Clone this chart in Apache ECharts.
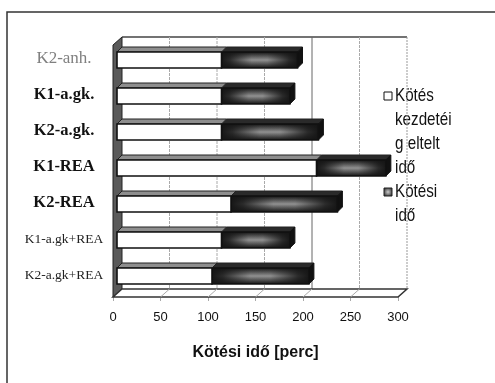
<!DOCTYPE html>
<html>
<head>
<meta charset="utf-8">
<script src="https://cdn.jsdelivr.net/npm/echarts@6/dist/echarts.min.js"></script>
<style>
  html, body { margin: 0; padding: 0; background: #fff; }
  #chart { width: 495px; height: 383px; }
</style>
</head>
<body>
<div id="chart"></div>
<script>
// Categories (samples), top to bottom
const categories = ['K2-anh.', 'K1-a.gk.', 'K2-a.gk.', 'K1-REA', 'K2-REA', 'K1-a.gk+REA', 'K2-a.gk+REA'];
// Time until setting begins [min]
const startTimes = [110, 110, 110, 210, 120, 110, 100];
// Setting time [min]
const settingTimes = [80, 72, 102, 73, 112, 72, 102];
// Value axis ticks
const xTicks = [0, 50, 100, 150, 200, 250, 300];

const seriesNames = ['Kötés kezdetéig eltelt idő', 'Kötési idő'];

// 3D geometry: depth of the plot box and of each bar
const DX = 9, DY = 8;          // wall depth
const BX = 4, BY = 4;          // bar front-face offset into the depth
const TX = 5, TY = 5;          // bar depth
const BAR_H = 16;

const serif = '"Liberation Serif", "Times New Roman", serif';
const sans = '"Liberation Sans", Arial, sans-serif';

const chart = echarts.init(document.getElementById('chart'), null, { renderer: 'canvas' });

const whiteData = categories.map((c, i) => [i, 0, startTimes[i]]);
const darkData = categories.map((c, i) => [i, startTimes[i], startTimes[i] + settingTimes[i]]);

// Shaded fill of the setting-time bars: dark rim, light core
const darkFillV = {
  type: 'linear', x: 0, y: 0, x2: 0, y2: 1,
  colorStops: [
    { offset: 0, color: '#151515' },
    { offset: 0.5, color: '#b0b0b0' },
    { offset: 1, color: '#151515' }
  ]
};
const darkFillH = {
  type: 'linear', x: 0, y: 0, x2: 1, y2: 0,
  colorStops: [
    { offset: 0, color: 'rgba(21,21,21,1)' },
    { offset: 0.12, color: 'rgba(21,21,21,0.85)' },
    { offset: 0.4, color: 'rgba(21,21,21,0.2)' },
    { offset: 0.6, color: 'rgba(21,21,21,0.2)' },
    { offset: 0.88, color: 'rgba(21,21,21,0.85)' },
    { offset: 1, color: 'rgba(21,21,21,1)' }
  ]
};

function barItem(kind) {
  return function (params, api) {
    const cat = api.value(0);
    const p0 = api.coord([api.value(1), cat]);
    const p1 = api.coord([api.value(2), cat]);
    const x0 = p0[0] + BX, x1 = p1[0] + BX;
    const yc = p0[1] - BY + 1;
    const yt = yc - BAR_H / 2, yb = yc + BAR_H / 2;
    const children = [];
    // top face
    children.push({
      type: 'polygon',
      shape: { points: [[x0, yt], [x1, yt], [x1 + TX, yt - TY], [x0 + TX, yt - TY]] },
      style: { fill: kind === 'white' ? '#8e8e8e' : '#2a2a2a', stroke: '#222', lineWidth: 1 }
    });
    if (kind === 'dark') {
      // right face
      children.push({
        type: 'polygon',
        shape: { points: [[x1, yt], [x1 + TX, yt - TY], [x1 + TX, yb - TY], [x1, yb]] },
        style: { fill: '#111', stroke: '#111', lineWidth: 1 }
      });
      // front face: vertical shading, then horizontal darkening toward the ends
      children.push({ type: 'rect', shape: { x: x0, y: yt, width: x1 - x0, height: BAR_H },
        style: { fill: darkFillV } });
      children.push({ type: 'rect', shape: { x: x0, y: yt, width: x1 - x0, height: BAR_H },
        style: { fill: darkFillH, stroke: '#111', lineWidth: 1.6 } });
    } else {
      children.push({ type: 'rect', shape: { x: x0, y: yt, width: x1 - x0, height: BAR_H },
        style: { fill: '#fff', stroke: '#111', lineWidth: 1.6 } });
    }
    return { type: 'group', children: children };
  };
}

// Walls, floor and back grid lines of the 3D plot box
function frameItem(params, api) {
  const cs = params.coordSys;
  const x = cs.x, y = cs.y, w = cs.width, h = cs.height;
  const children = [];
  // back wall top & right edges
  children.push({ type: 'line', shape: { x1: x + DX, y1: y - DY, x2: x + w + DX, y2: y - DY },
    style: { stroke: '#444', lineWidth: 1.5 } });
  children.push({ type: 'line', shape: { x1: x + w + DX, y1: y - DY, x2: x + w + DX, y2: y + h - DY },
    style: { stroke: '#999', lineWidth: 1, lineDash: [2, 1] } });
  // back grid lines
  xTicks.slice(1, -1).forEach(v => {
    const px = api.coord([v, 0])[0] + DX;
    children.push({ type: 'line', shape: { x1: px, y1: y - DY, x2: px, y2: y + h - DY },
      style: { stroke: v === 200 ? '#666' : '#aaa', lineWidth: 1, lineDash: v === 200 ? null : [3, 1] } });
  });
  // left wall
  children.push({ type: 'polygon',
    shape: { points: [[x, y], [x + DX, y - DY], [x + DX, y + h - DY], [x, y + h]] },
    style: { fill: '#5a5a5a', stroke: '#222', lineWidth: 1 } });
  // floor
  children.push({ type: 'polygon',
    shape: { points: [[x, y + h], [x + w, y + h], [x + w + DX, y + h - DY], [x + DX, y + h - DY]] },
    style: { fill: '#fff', stroke: '#333', lineWidth: 1.5 } });
  xTicks.slice(1, -1).forEach(v => {
    const px = api.coord([v, 0])[0];
    children.push({ type: 'line', shape: { x1: px, y1: y + h, x2: px + DX, y2: y + h - DY },
      style: { stroke: '#aaa', lineWidth: 1 } });
  });
  return { type: 'group', children: children };
}

const labelRich = {
  gray: { fontFamily: serif, fontSize: 17, color: '#808080' },
  big: { fontFamily: serif, fontSize: 16.5, color: '#111', fontWeight: 'bold' },
  small: { fontFamily: serif, fontSize: 13.5, color: '#222' }
};
const labelStyleOf = ['gray', 'big', 'big', 'big', 'big', 'small', 'small'];

// Legend, drawn as wrapped text beside its two swatches
const legendTop = 96, legendStep = 24, legendX = 395;
const legendLines1 = ['Kötés', 'kezdetéi', 'g eltelt', 'idő'];
const legendLines2 = ['Kötési', 'idő'];
const legendFont = { fontFamily: sans, fontSize: 19, fill: '#111', verticalAlign: 'middle' };
const legendGraphics = [];
legendLines1.concat(legendLines2).forEach((t, i) => legendGraphics.push({
  type: 'text', x: legendX, y: legendTop + i * legendStep, scaleX: 0.8,
  style: Object.assign({ text: t }, legendFont) }));
legendGraphics.push({ type: 'rect', shape: { x: 384, y: legendTop - 4, width: 8, height: 8 },
  style: { fill: '#fff', stroke: '#111', lineWidth: 1 } });
legendGraphics.push({ type: 'rect', shape: { x: 384, y: legendTop + 4 * legendStep - 4, width: 8, height: 8 },
  style: { fill: { type: 'radial', x: 0.5, y: 0.5, r: 0.6, colorStops: [{ offset: 0, color: '#ccc' }, { offset: 1, color: '#222' }] },
    stroke: '#222', lineWidth: 1 } });

chart.setOption({
  animation: false,
  backgroundColor: '#fff',
  graphic: [
    { type: 'rect', shape: { x: 7, y: 12, width: 520, height: 420 }, style: { fill: null, stroke: '#333', lineWidth: 1.5 }, z: -10 }
  ].concat(legendGraphics),
  grid: { left: 113, right: 97, top: 45, bottom: 86 },
  xAxis: {
    type: 'value', min: 0, max: 300, interval: 50,
    name: 'Kötési idő [perc]', nameLocation: 'middle', nameGap: 48,
    nameTextStyle: { fontFamily: sans, fontWeight: 'bold', fontSize: 16, color: '#111' },
    axisLine: { show: false },
    axisTick: { show: true, length: 4, lineStyle: { color: '#aaa' } },
    axisLabel: { margin: 14, fontFamily: sans, fontSize: 13, color: '#111' },
    splitLine: { show: false }
  },
  yAxis: {
    type: 'category', data: categories, inverse: true,
    axisLine: { show: false }, axisTick: { show: false }, splitLine: { show: false },
    axisLabel: {
      margin: 49, align: 'center', padding: [0, 0, 8, 0],
      formatter: function (v, i) { return '{' + labelStyleOf[i] + '|' + v + '}'; },
      rich: labelRich
    }
  },
  series: [
    { type: 'custom', name: 'frame', data: [[0, 0, 0]], renderItem: frameItem, z: 1, silent: true },
    { type: 'custom', name: seriesNames[0], data: whiteData, renderItem: barItem('white'),
      encode: { x: [1, 2], y: 0 }, z: 3 },
    { type: 'custom', name: seriesNames[1], data: darkData, renderItem: barItem('dark'),
      encode: { x: [1, 2], y: 0 }, z: 2 }
  ]
});
</script>
</body>
</html>
